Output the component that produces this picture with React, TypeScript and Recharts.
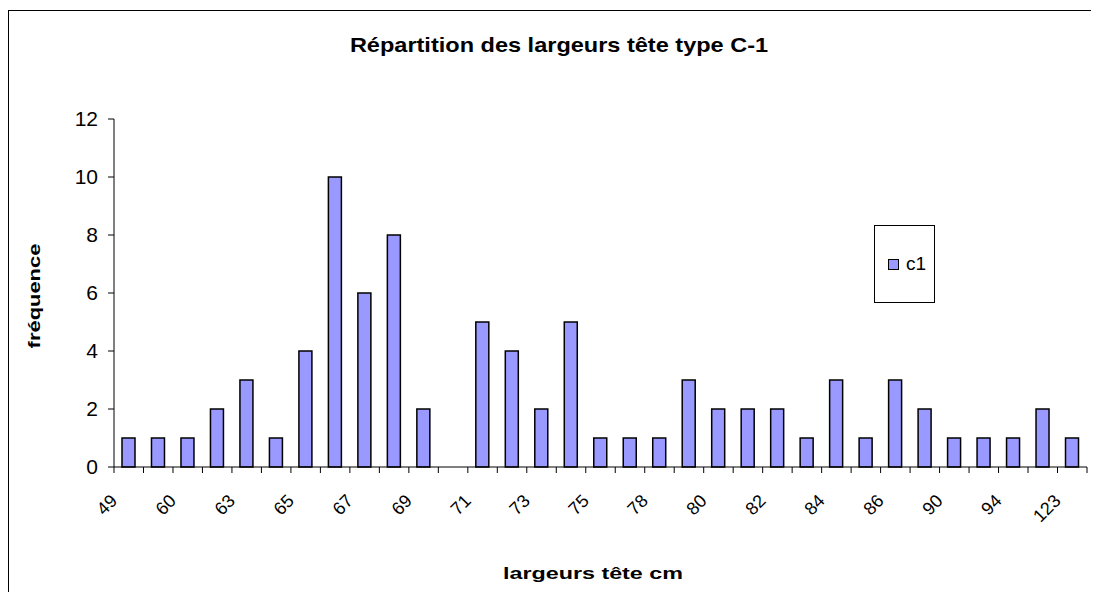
import { Bar, BarChart, XAxis, YAxis } from "recharts"

// Catégories (largeurs tête, cm) — une étiquette sur deux est visible
const largeurs = [
  "49", "58", "60", "62", "63", "64", "65", "66", "67", "68", "69",
  "70", "71", "72", "73", "74", "75", "76", "78", "79", "80", "81",
  "82", "83", "84", "85", "86", "88", "90", "92", "94", "100", "123",
]

// Fréquences de la série c1
const frequences = [
  1, 1, 1, 2, 3, 1, 4, 10, 6, 8, 2,
  0, 5, 4, 2, 5, 1, 1, 1, 3, 2, 2,
  2, 1, 3, 1, 3, 2, 1, 1, 1, 2, 1,
]

const yTicks = [0, 2, 4, 6, 8, 10, 12]

const FONT = "'Liberation Sans', Arial, sans-serif"

const data = largeurs.map((l, i) => ({ largeur: l, c1: frequences[i] }))

// Tick personnalisé : trait aux limites de catégorie, étiquette tournée à -45°
function XTick(props: any) {
  const { x, y, payload, index } = props
  const off = payload?.offset ?? 14.7
  const last = index === largeurs.length - 1
  const ax = x - 10.5
  const ay = y + 35
  return (
    <g>
      <line x1={x - off} x2={x - off} y1={y} y2={y + 6} stroke="#000" />
      {last && <line x1={x + off} x2={x + off} y1={y} y2={y + 6} stroke="#000" />}
      {index % 2 === 0 && (
        <text
          x={ax}
          y={ay}
          textAnchor="end"
          transform={`rotate(-45, ${ax}, ${ay})`}
          fontSize={18}
          fontFamily={FONT}
          fill="#000"
        >
          {payload.value}
        </text>
      )}
    </g>
  )
}

export default function App() {
  return (
    <div style={{ position: "relative", width: 1091, height: 584, fontFamily: FONT, overflow: "hidden" }}>
      <style>{`html, body { overflow: hidden; }`}</style>
      {/* cadre du graphique (bords droit et bas hors champ) */}
      <div
        style={{
          position: "absolute",
          left: 0,
          top: 2,
          width: 1300,
          height: 800,
          borderTop: "1px solid #000",
          borderLeft: "1px solid #000",
        }}
      />
      <div
        style={{
          position: "absolute",
          left: 551,
          top: 36,
          transform: "translate(-50%, -50%) scaleX(1.12)",
          fontWeight: "bold",
          fontSize: 21,
          lineHeight: 1,
          whiteSpace: "nowrap",
        }}
      >
        Répartition des largeurs tête type C-1
      </div>
      <div
        style={{
          position: "absolute",
          left: 27,
          top: 288,
          transform: "translate(-50%, -50%) rotate(-90deg) scaleX(1.37)",
          fontWeight: "bold",
          fontSize: 16,
          lineHeight: 1,
          whiteSpace: "nowrap",
        }}
      >
        fréquence
      </div>
      <div
        style={{
          position: "absolute",
          left: 585,
          top: 565,
          transform: "translate(-50%, -50%) scaleX(1.37)",
          fontWeight: "bold",
          fontSize: 17,
          lineHeight: 1,
          whiteSpace: "nowrap",
        }}
      >
        largeurs tête cm
      </div>
      {/* légende */}
      <div
        style={{
          position: "absolute",
          left: 866,
          top: 217,
          width: 61,
          height: 78,
          boxSizing: "border-box",
          border: "1px solid #000",
          background: "#fff",
          display: "flex",
          alignItems: "center",
          paddingLeft: 13,
          fontSize: 19,
          zIndex: 2,
        }}
      >
        <span
          style={{
            display: "inline-block",
            width: 11,
            height: 11,
            boxSizing: "border-box",
            background: "#9999FF",
            border: "1.5px solid #000",
            marginRight: 7,
          }}
        />
        c1
      </div>
      <div style={{ position: "absolute", left: 0, top: 0 }}>
        <BarChart
          width={1091}
          height={584}
          data={data}
          margin={{ top: 111, right: 12, left: 56, bottom: 65 }}
          barCategoryGap={0}
        >
          <XAxis
            dataKey="largeur"
            interval={0}
            tickSize={0}
            tickMargin={0}
            tickLine={false}
            axisLine={{ stroke: "#000" }}
            tick={<XTick />}
            height={60}
          />
          <YAxis
            domain={[0, 12]}
            ticks={yTicks}
            width={50}
            axisLine={{ stroke: "#000" }}
            tickLine={{ stroke: "#000" }}
            tickSize={6}
            tickMargin={10}
            tick={{ fill: "#000", fontSize: 21, fontFamily: FONT }}
          />
          <Bar
            dataKey="c1"
            fill="#9999FF"
            stroke="#000"
            strokeWidth={1.5}
            barSize={13}
            isAnimationActive={false}
          />
        </BarChart>
      </div>
    </div>
  )
}
